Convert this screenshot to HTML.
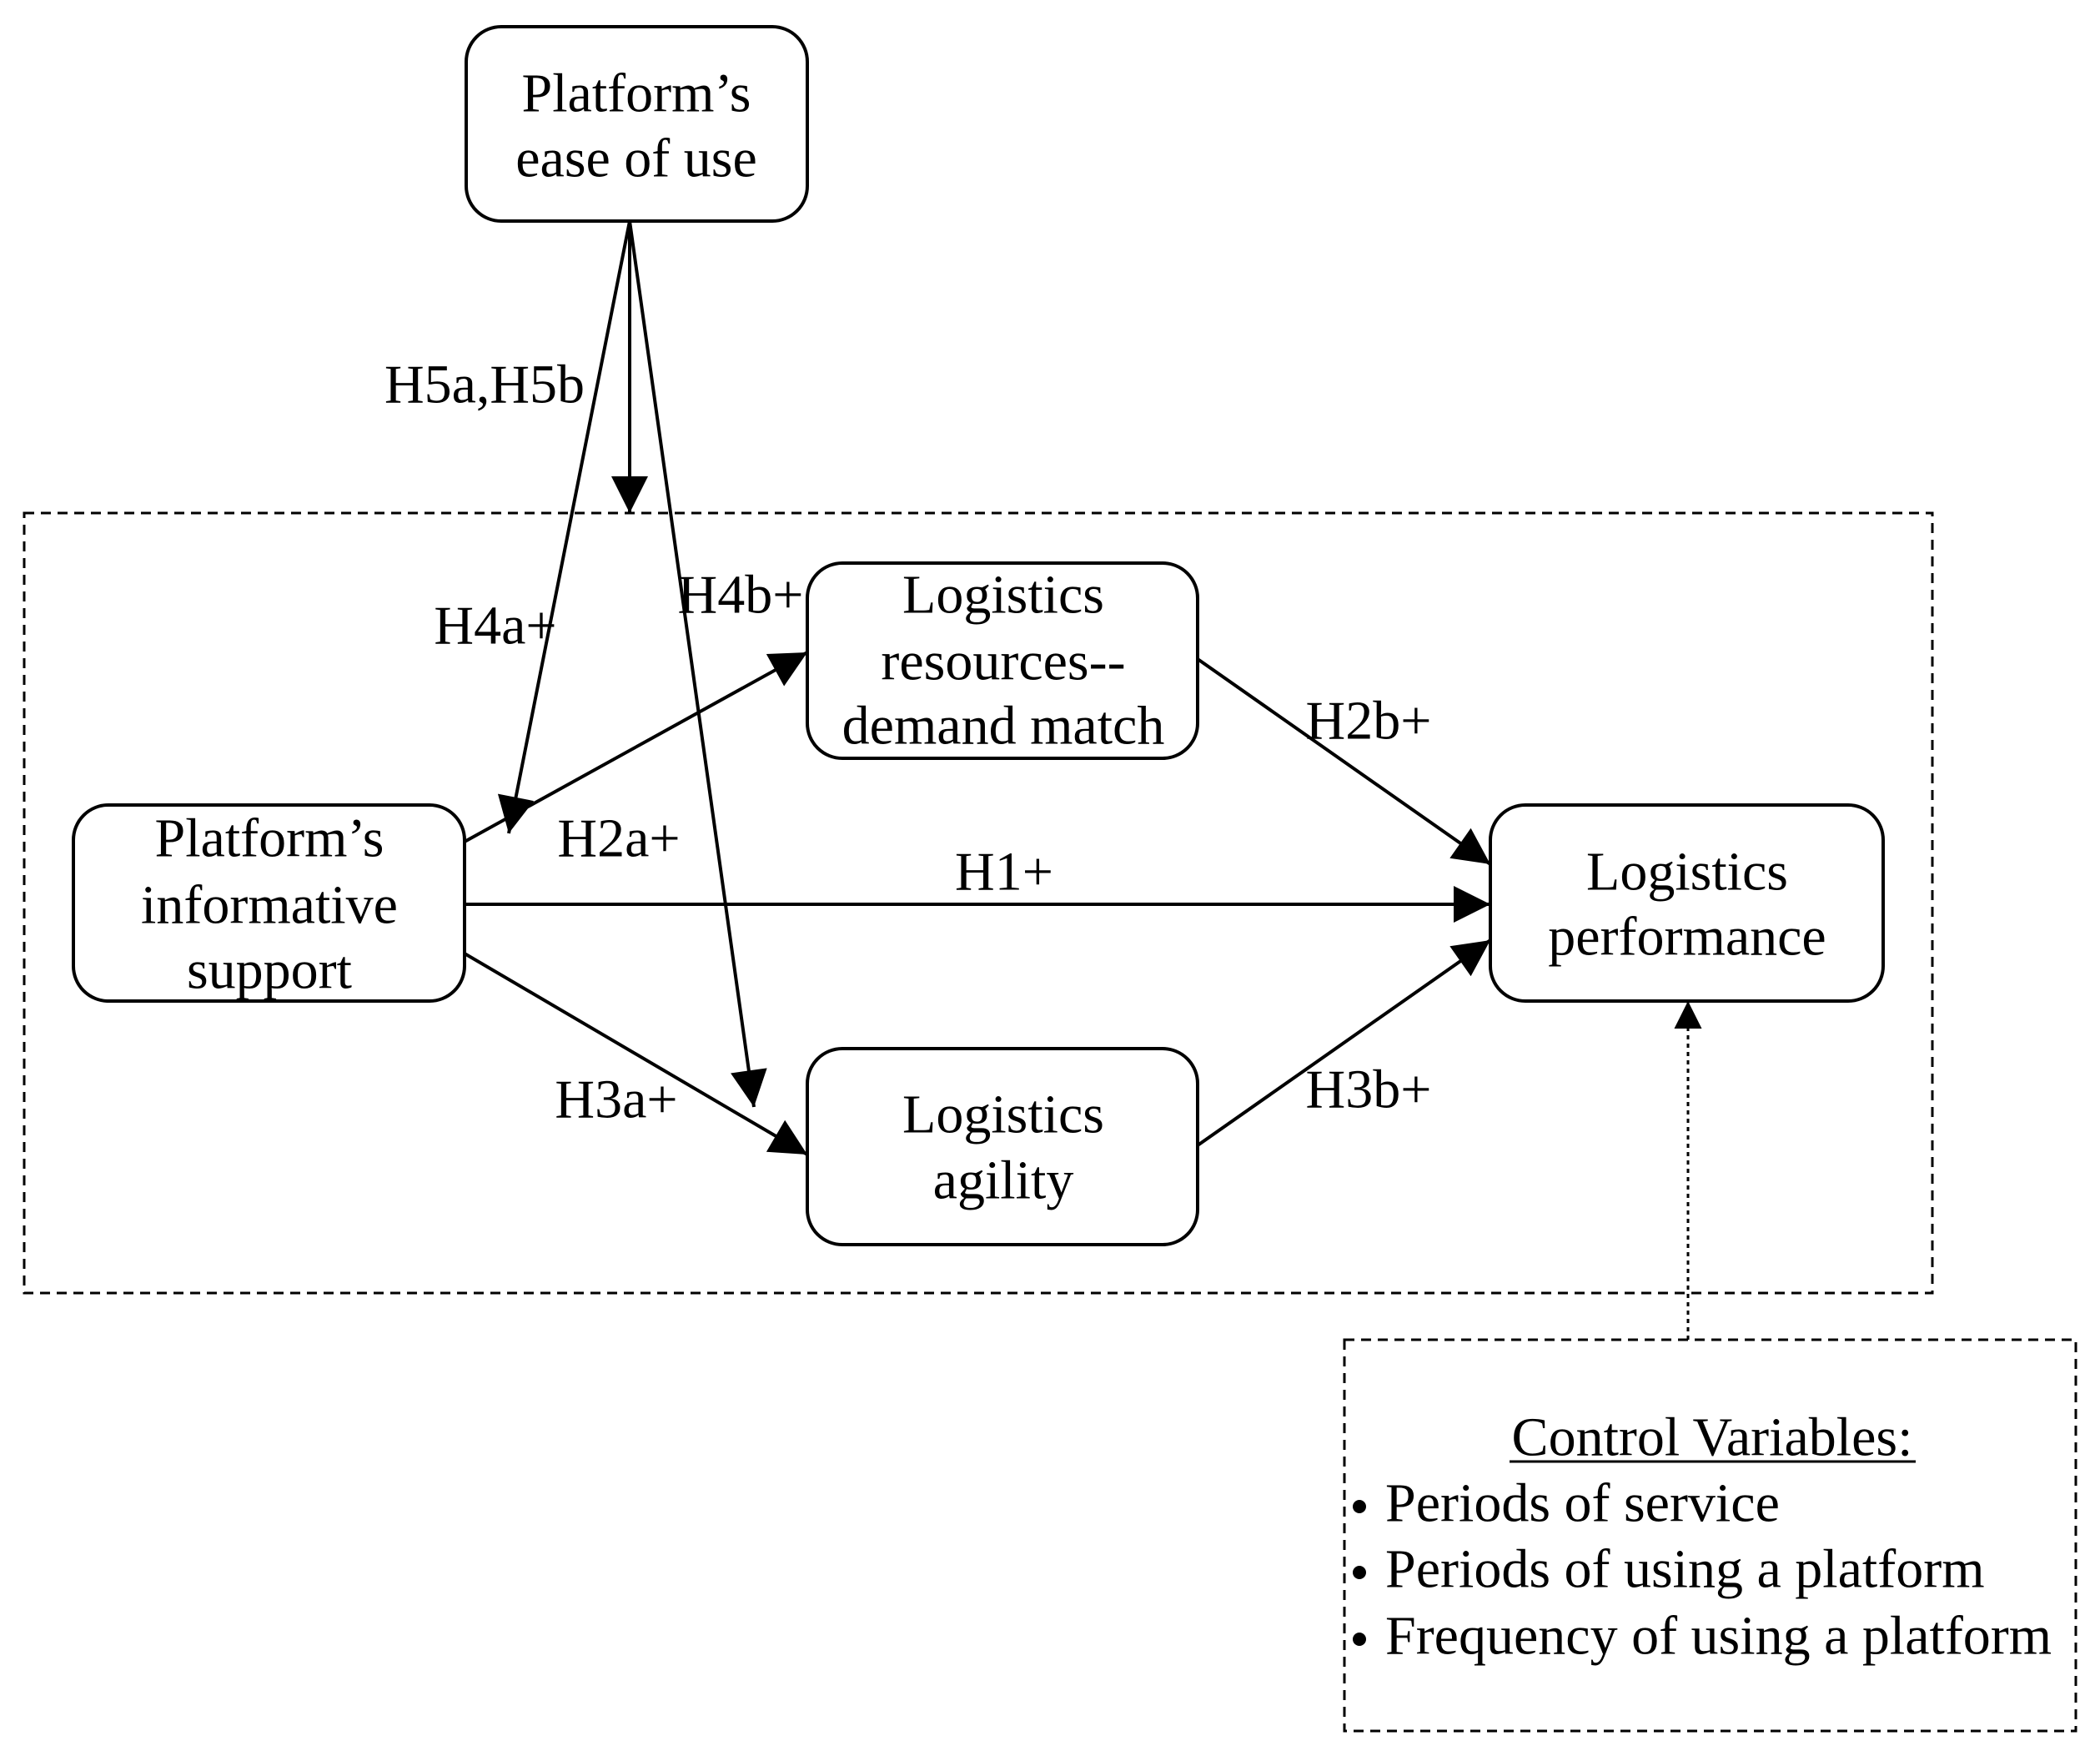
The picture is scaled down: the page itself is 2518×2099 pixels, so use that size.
<!DOCTYPE html>
<html><head><meta charset="utf-8"><style>
html,body{margin:0;padding:0;background:#fff}
svg{display:block}
text{font-family:"Liberation Serif",serif;font-size:66px;fill:#000;text-anchor:middle;dominant-baseline:central}
</style></head><body>
<svg width="2518" height="2099" viewBox="0 0 2518 2099" xmlns="http://www.w3.org/2000/svg">
<defs>
<marker id="ah" viewBox="0 0 10 10" refX="10" refY="5" markerWidth="12" markerHeight="11" orient="auto"><path d="M0,0 L10,5 L0,10 z" fill="#000"/></marker>
</defs>
<g fill="none" stroke="#000" stroke-width="4">
<rect x="29" y="615" width="2288" height="935" stroke-dasharray="12,8" stroke-width="3"/>
<rect x="1612" y="1606" width="877" height="469" stroke-dasharray="12,8" stroke-width="3"/>
<rect x="559" y="32" width="409" height="233" rx="42"/>
<rect x="88" y="965" width="469" height="235" rx="42"/>
<rect x="968" y="675" width="468" height="234" rx="42"/>
<rect x="968" y="1257" width="468" height="235" rx="42"/>
<rect x="1787" y="965" width="471" height="235" rx="42"/>
<line x1="755" y1="265" x2="610" y2="999" marker-end="url(#ah)"/>
<line x1="755" y1="265" x2="755" y2="615" marker-end="url(#ah)"/>
<line x1="755" y1="265" x2="904" y2="1327" marker-end="url(#ah)"/>
<line x1="557" y1="1009" x2="968" y2="782" marker-end="url(#ah)"/>
<line x1="557" y1="1084" x2="1787" y2="1084" marker-end="url(#ah)"/>
<line x1="557" y1="1143" x2="968" y2="1384" marker-end="url(#ah)"/>
<line x1="1436" y1="790" x2="1787" y2="1036" marker-end="url(#ah)"/>
<line x1="1436" y1="1373" x2="1787" y2="1127" marker-end="url(#ah)"/>
<line x1="2024" y1="1606" x2="2024" y2="1200" stroke-dasharray="5,5" marker-end="url(#ah)" stroke-width="3"/>
</g>
<text x="763" y="112">Platform’s</text>
<text x="763" y="190">ease of use</text>
<text x="323" y="1005">Platform’s</text>
<text x="323" y="1085">informative</text>
<text x="323" y="1163">support</text>
<text x="1203" y="713">Logistics</text>
<text x="1203" y="793">resources--</text>
<text x="1203" y="870">demand match</text>
<text x="1203" y="1336">Logistics</text>
<text x="1203" y="1415">agility</text>
<text x="2023" y="1045">Logistics</text>
<text x="2023" y="1123">performance</text>
<text x="581" y="461">H5a,H5b</text>
<text x="594" y="750">H4a+</text>
<text x="888" y="713">H4b+</text>
<text x="742" y="1005">H2a+</text>
<text x="1204" y="1045">H1+</text>
<text x="739" y="1318">H3a+</text>
<text x="1641" y="864">H2b+</text>
<text x="1641" y="1306">H3b+</text>
<text x="2053" y="1723">Control Variables:</text>
<line x1="1810" y1="1752" x2="2297" y2="1752" stroke="#000" stroke-width="3"/>
<text x="1661" y="1802" style="text-anchor:start">Periods of service</text>
<text x="1661" y="1881" style="text-anchor:start">Periods of using a platform</text>
<text x="1661" y="1961" style="text-anchor:start">Frequency of using a platform</text>
<circle cx="1630" cy="1806" r="8" fill="#000"/>
<circle cx="1630" cy="1885" r="8" fill="#000"/>
<circle cx="1630" cy="1965" r="8" fill="#000"/>
</svg>
</body></html>
